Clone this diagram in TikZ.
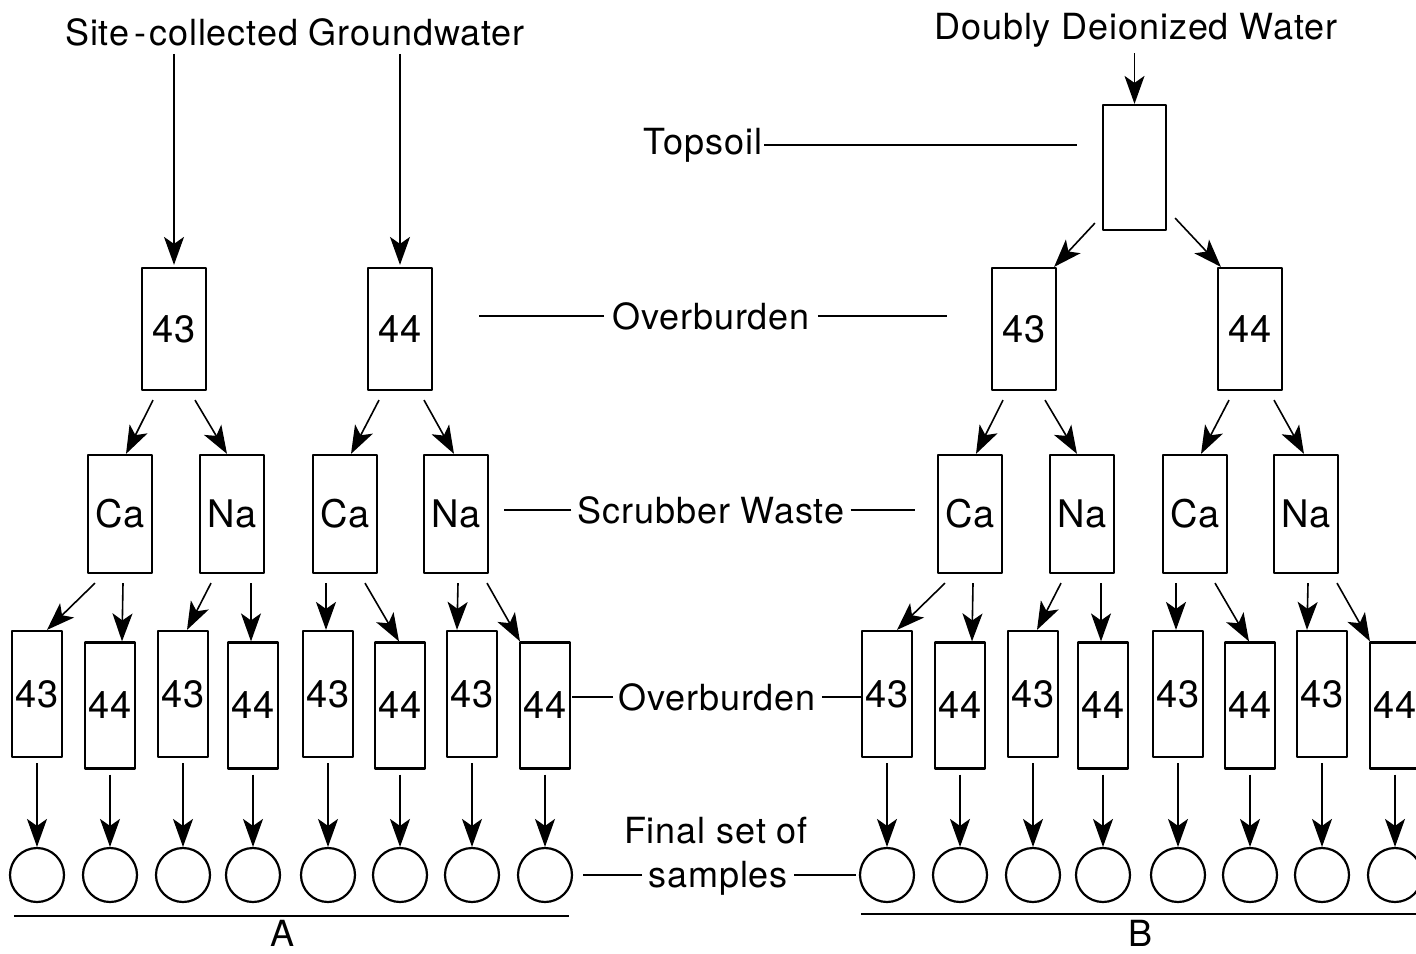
\documentclass[tikz,border=0pt]{standalone}
\usepackage{fontspec}
\setmainfont[LetterSpace=2.5]{TeX Gyre Heros}
\usepackage{tikz}
\usetikzlibrary{arrows.meta,calc}

\begin{document}
\begin{tikzpicture}[x=1pt,y=-1pt,line join=round,
  every node/.style={font=\fontsize{36}{40}\selectfont,inner sep=2pt},
  soilcol/.style={draw,line width=2.2pt,inner sep=0pt,minimum width=64pt,minimum height=122pt,font=\fontsize{38}{40}\selectfont},
  leachcol/.style={soilcol,minimum width=50pt},
  vial/.style={draw,circle,line width=2.2pt,minimum size=54pt,inner sep=0pt},
  flow/.style={-{Stealth[length=28pt,width=20pt,inset=7pt]},line width=1.6pt},
  lead/.style={line width=1.6pt}]

\useasboundingbox (0,0) rectangle (1416,953);
\clip (0,0) rectangle (1416,953);

% ---------- the two column trees, A and B ----------
\foreach \p/\sh in {A/0,B/850}{
  \begin{scope}[xshift=\sh]
    \node[soilcol] (\p-o43) at (174,329) {43};
    \node[soilcol] (\p-o44) at (400,329) {44};
    \foreach \n/\w/\x in {ca1/Ca/120,na1/Na/232,ca2/Ca/345,na2/Na/456}
      \node[soilcol,minimum height=118pt] (\p-\n) at (\x,514) {\w};
    \foreach \i/\x/\y/\t in {1/37/694/43,2/110/705.5/44,3/183/694/43,4/253/705.5/44,
                             5/328/694/43,6/400/705.5/44,7/472/694/43,8/545/705.5/44}{
      \node[leachcol,minimum height=126pt] (\p-b\i) at (\x,\y) {\t};
      \node[vial] (\p-s\i) at (\x,875) {};
      \draw[flow] ([yshift=-5pt]\p-b\i.south) -- (\p-s\i.north);}
    \foreach \a/\b/\s/\e in {o43/ca1/-21/6,o43/na1/21/-5,o44/ca2/-21/6,o44/na2/24/-2}
      \draw[flow] ([xshift=\s,yshift=-9pt]\p-\a.south) -- ([xshift=\e]\p-\b.north);
    \foreach \a/\b/\s/\e in {ca1/1/-25/10,ca1/2/3/12,na1/3/-21/4,na1/4/19/-2,
                             ca2/5/-19/-2,ca2/6/20/-1,na2/7/2/-15,na2/8/31/-25}
      \draw[flow] ([xshift=\s,yshift=-9pt]\p-\a.south) -- ([xshift=\e]\p-b\b.north);
  \end{scope}
}

% ---------- feeds ----------
\node (site) at (295,32) {Site\kern5pt-\kern3pt collected Groundwater};
\draw[flow,shorten <=6pt,shorten >=2pt] (site.south -| A-o43.north) -- (A-o43.north);
\draw[flow,shorten <=6pt,shorten >=2pt] (site.south -| A-o44.north) -- (A-o44.north);

\node (water) at (1136,30) {Doubly Deionized Water};
\node[soilcol,minimum width=63pt,minimum height=125pt] (topsoil) at (1134.5,167.5) {};
\draw[flow,shorten <=4pt] (water.south -| topsoil.north) -- (topsoil.north);
\draw[flow] ([xshift=-7pt,yshift=8pt]topsoil.south west) -- ([xshift=-3pt]B-o43.north east);
\draw[flow] ([xshift=8pt,yshift=13pt]topsoil.south east) -- ([xshift=4pt]B-o44.north west);

% ---------- layer labels ----------
\node (toplab) at (703,145) {Topsoil};
\draw[lead] (toplab.east) -- ([xshift=-25pt]toplab.east -| topsoil.west);

\node (ob1) at (711,316) {Overburden};
\draw[lead] ([xshift=-6pt]ob1.west) -- ([xshift=46pt]ob1.west -| A-o44.east);
\draw[lead] ([xshift=6pt]ob1.east) -- ([xshift=-44pt]ob1.east -| B-o43.west);

\node (scrub) at (711,510) {Scrubber Waste};
\draw[lead] ([xshift=-4pt]scrub.west) -- ([xshift=15pt]scrub.west -| A-na2.east);
\draw[lead] ([xshift=4pt]scrub.east) -- ([xshift=-22pt]scrub.east -| B-ca1.west);

\node (ob2) at (717,697) {Overburden};
\draw[lead] ([xshift=-3pt]ob2.west) -- ([xshift=1pt]ob2.west -| A-b8.east);
\draw[lead] ([xshift=4pt]ob2.east) -- (ob2.east -| B-b1.west);

\node (final) at (716,831) {Final set of};
\node (samples) at (718,878) {samples};
\draw[lead] ([xshift=-4pt]samples.west |- A-s8.east) -- ([xshift=10pt]A-s8.east);
\draw[lead] ([xshift=4pt]samples.east |- B-s1.west) -- ([xshift=-3pt]B-s1.west);

% ---------- set underlines ----------
\draw[lead] ($(A-s1.west |- A-s1.south)+(5,13)$) -- ($(A-s8.east |- A-s8.south)+(-4,13)$);
\draw[lead] ($(B-s1.west |- B-s1.south)+(2,11)$) -- ($(B-s8.east |- B-s8.south)+(10,11)$);
\node (setA) at (283,933) {A};
\node (setB) at (1140,933) {B};
\end{tikzpicture}
\end{document}
